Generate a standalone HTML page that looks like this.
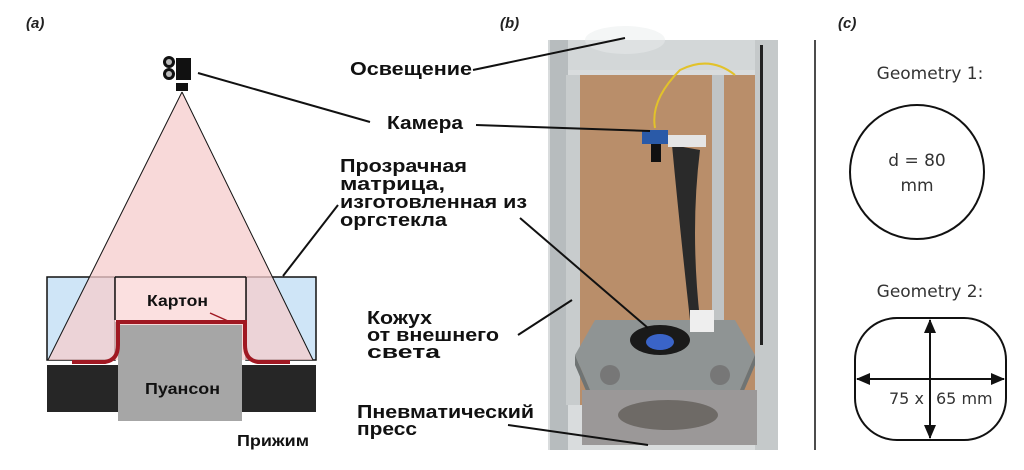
<!DOCTYPE html>
<html><head><meta charset="utf-8"><style>
body{margin:0;width:1024px;height:470px;background:#fff;overflow:hidden}
svg{display:block}
.b{font-family:"Liberation Sans",sans-serif;font-weight:bold;font-size:18px;fill:#111}
.g{font-family:"DejaVu Sans","Liberation Sans",sans-serif;font-size:15px;fill:#333}
.l{font-family:"Liberation Sans",sans-serif;font-weight:bold;font-style:italic;font-size:15px;fill:#222}
</style></head><body>
<svg width="1024" height="470" viewBox="0 0 1024 470">
<defs><marker id="ar" markerUnits="userSpaceOnUse" markerWidth="14" markerHeight="14" refX="13" refY="7" orient="auto-start-reverse"><path d="M0,1L14,7L0,13z" fill="#111"/></marker></defs>
<text class="l" x="26" y="28">(a)</text>
<text class="l" x="500" y="28">(b)</text>
<text class="l" x="838" y="28">(c)</text>
<!-- panel a -->
<rect x="47" y="277" width="68" height="83" fill="#cfe5f7" stroke="#111" stroke-width="1.5"/>
<rect x="246" y="277" width="70" height="83" fill="#cfe5f7" stroke="#111" stroke-width="1.5"/>
<polygon points="182,92 48,360 313,360" fill="#f6cccc" fill-opacity="0.75"/>
<rect x="115" y="277" width="131" height="45" fill="#fbe0e0"/>
<line x1="115" y1="277" x2="246" y2="277" stroke="#111" stroke-width="1.5"/>
<line x1="115" y1="277" x2="115" y2="320" stroke="#111" stroke-width="1.5"/>
<line x1="246" y1="277" x2="246" y2="320" stroke="#111" stroke-width="1.5"/>
<line x1="182" y1="92" x2="48" y2="360" stroke="#111"/>
<line x1="182" y1="92" x2="313" y2="360" stroke="#111"/>
<rect x="47" y="365" width="71" height="47" fill="#262626"/>
<rect x="242" y="365" width="74" height="47" fill="#262626"/>
<rect x="118" y="325" width="124" height="96" fill="#a6a6a6"/>
<path d="M72,362 L105,362 Q118,360 118,345 L118,322 L245,322 L245,345 Q245,360 258,362 L290,362" fill="none" stroke="#a01822" stroke-width="4"/>
<line x1="210" y1="313" x2="228" y2="321" stroke="#a01822" stroke-width="1.5"/>
<text class="b" x="147" y="306" style="font-size:16px" textLength="61" lengthAdjust="spacingAndGlyphs">Картон</text>
<text class="b" x="145" y="394" style="font-size:16px" textLength="75" lengthAdjust="spacingAndGlyphs">Пуансон</text>
<text class="b" x="237" y="446" style="font-size:16px" textLength="72" lengthAdjust="spacingAndGlyphs">Прижим</text>
<!-- camera icon -->
<rect x="176" y="58" width="15" height="22" fill="#111"/>
<circle cx="169" cy="62" r="6" fill="#111"/><circle cx="169" cy="62" r="3" fill="#bbb"/>
<circle cx="169" cy="74" r="6" fill="#111"/><circle cx="169" cy="74" r="3" fill="#bbb"/>
<rect x="176" y="83" width="12" height="8" fill="#111"/>
<!-- photo -->
<g>
<rect x="548" y="40" width="230" height="410" fill="#d9dcdd"/>
<rect x="568" y="75" width="195" height="330" fill="#b98e6a"/>
<ellipse cx="625" cy="40" rx="40" ry="14" fill="#f4f6f6"/>
<rect x="548" y="40" width="230" height="30" fill="#cfd4d6" opacity="0.6"/>
<rect x="550" y="40" width="18" height="410" fill="#b7bcbe"/>
<rect x="566" y="75" width="14" height="330" fill="#c8cccd"/>
<rect x="712" y="75" width="12" height="300" fill="#c0c4c5"/>
<rect x="755" y="40" width="23" height="410" fill="#c5c9ca"/>
<rect x="760" y="45" width="3" height="300" fill="#222"/>
<path d="M672,145 L700,150 Q690,230 700,320 L690,320 Q680,230 672,145z" fill="#2a2a2a"/>
<rect x="668" y="135" width="38" height="12" fill="#e5e5e5"/>
<rect x="642" y="130" width="26" height="14" fill="#2a5aa8"/>
<rect x="651" y="144" width="10" height="18" fill="#111"/>
<path d="M655,128 Q650,100 680,70 Q710,55 735,75" fill="none" stroke="#e2c22a" stroke-width="2"/>
<polygon points="575,355 595,320 735,320 755,355 740,390 590,390" fill="#8f9494"/>
<polygon points="575,355 590,390 740,390 755,355 755,365 740,400 590,400 575,365" fill="#6f7474"/>
<ellipse cx="660" cy="340" rx="30" ry="15" fill="#1a1a1a"/>
<ellipse cx="660" cy="342" rx="14" ry="8" fill="#3a64c8"/>
<rect x="582" y="390" width="175" height="55" fill="#9b9898"/>
<ellipse cx="668" cy="415" rx="50" ry="15" fill="#6e6a66"/>
<circle cx="610" cy="375" r="10" fill="#777"/><circle cx="720" cy="375" r="10" fill="#777"/>
<rect x="690" y="310" width="24" height="22" fill="#eee"/>
</g>
<!-- leader lines -->
<g stroke="#111" stroke-width="2">
<line x1="198" y1="73" x2="370" y2="122"/>
<line x1="476" y1="125" x2="650" y2="131"/>
<line x1="473" y1="70" x2="625" y2="38"/>
<line x1="338" y1="205" x2="283" y2="276"/>
<line x1="520" y1="218" x2="648" y2="328"/>
<line x1="518" y1="335" x2="572" y2="300"/>
<line x1="508" y1="425" x2="648" y2="445"/>
</g>
<text class="b" x="350" y="75" textLength="122" lengthAdjust="spacingAndGlyphs">Освещение</text>
<text class="b" x="387" y="129" textLength="76" lengthAdjust="spacingAndGlyphs">Камера</text>
<text class="b" x="340" y="172" textLength="127" lengthAdjust="spacingAndGlyphs">Прозрачная</text>
<text class="b" x="340" y="190" textLength="105" lengthAdjust="spacingAndGlyphs">матрица,</text>
<text class="b" x="340" y="208" textLength="187" lengthAdjust="spacingAndGlyphs">изготовленная из</text>
<text class="b" x="340" y="226" textLength="107" lengthAdjust="spacingAndGlyphs">оргстекла</text>
<text class="b" x="367" y="324" textLength="65" lengthAdjust="spacingAndGlyphs">Кожух</text>
<text class="b" x="367" y="341" textLength="132" lengthAdjust="spacingAndGlyphs">от внешнего</text>
<text class="b" x="367" y="358" textLength="73" lengthAdjust="spacingAndGlyphs">света</text>
<text class="b" x="357" y="418" textLength="177" lengthAdjust="spacingAndGlyphs">Пневматический</text>
<text class="b" x="357" y="435" textLength="60" lengthAdjust="spacingAndGlyphs">пресс</text>
<!-- panel c -->
<line x1="815" y1="40" x2="815" y2="450" stroke="#111" stroke-width="1.5"/>
<text class="g" x="930" y="79" text-anchor="middle" style="font-size:17px">Geometry 1:</text>
<circle cx="917" cy="172" r="67" fill="none" stroke="#111" stroke-width="2"/>
<text class="g" x="917" y="166" text-anchor="middle" style="font-size:17px">d = 80</text>
<text class="g" x="917" y="191" text-anchor="middle" style="font-size:17px">mm</text>
<text class="g" x="930" y="297" text-anchor="middle" style="font-size:17px">Geometry 2:</text>
<rect x="855" y="318" width="151" height="122" rx="42" fill="none" stroke="#111" stroke-width="2"/>
<line x1="930" y1="320" x2="930" y2="438" stroke="#111" stroke-width="2" marker-start="url(#ar)" marker-end="url(#ar)"/>
<line x1="857" y1="379" x2="1004" y2="379" stroke="#111" stroke-width="2" marker-start="url(#ar)" marker-end="url(#ar)"/>
<text class="g" x="889" y="404" style="font-size:16px">75 x</text>
<text class="g" x="936" y="404" style="font-size:16px">65 mm</text>
</svg>
</body></html>
